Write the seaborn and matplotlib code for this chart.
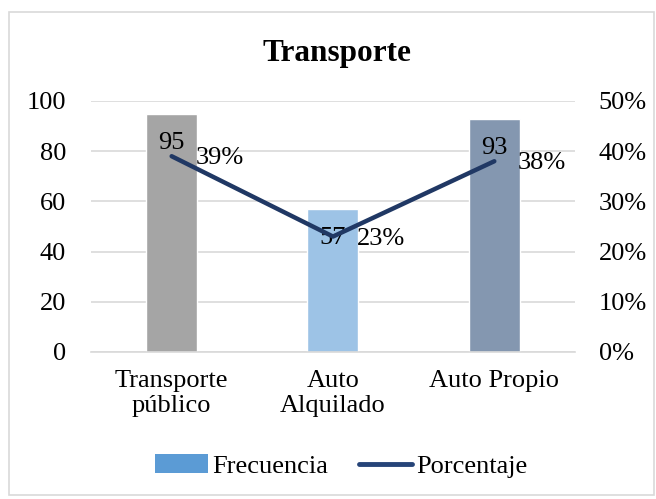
import pandas as pd
import matplotlib.pyplot as plt
import seaborn as sns
from matplotlib.patches import Patch, Rectangle
from matplotlib.lines import Line2D

sns.set_style("white")
plt.rcParams["font.family"] = ["Liberation Serif", "DejaVu Serif"]
plt.rcParams["text.color"] = "black"
plt.rcParams["xtick.color"] = "black"
plt.rcParams["ytick.color"] = "black"

# ====================================
# DATA
# ====================================

categorias = ["Transporte\npúblico", "Auto\nAlquilado", "Auto Propio"]
frecuencia = [95, 57, 93]
porcentaje = [0.39, 0.23, 0.38]
etiquetas_pct = ["39%", "23%", "38%"]
colores_barras = ["#A5A5A5", "#9DC3E6", "#8497B0"]

df = pd.DataFrame({
    "categoria": categorias,
    "frecuencia": frecuencia,
    "porcentaje": porcentaje,
    "pos": range(len(categorias)),
})

FS = 19
LINE_COLOR = "#203864"

# ====================================
# FIGURE
# ====================================

fig = plt.figure(figsize=(6.56, 4.99), dpi=100)
ax = fig.add_axes([0.1387, 0.2946, 0.7378, 0.503])

sns.barplot(
    data=df,
    x="categoria",
    y="frecuencia",
    hue="categoria",
    palette=colores_barras,
    saturation=1,
    width=0.316,
    dodge=False,
    legend=False,
    ax=ax,
    zorder=2,
)

ax.set_ylim(0, 100)
ax.set_xlim(-0.5, 2.5)
ax.set_yticks(range(0, 101, 20))
ax.yaxis.grid(True, color="#D9D9D9", linewidth=1.2, zorder=0)
ax.set_axisbelow(True)
ax.set_xlabel("")
ax.set_ylabel("")
for s in ["top", "left", "right"]:
    ax.spines[s].set_visible(False)
ax.spines["bottom"].set_color("#D9D9D9")
ax.spines["bottom"].set_linewidth(1.2)
ax.tick_params(axis="y", length=0, pad=18, labelsize=FS)
ax.tick_params(axis="x", length=0, pad=13, labelsize=FS)

for i, v in enumerate(frecuencia):
    ax.annotate(
        str(v), (i, v), xytext=(0, -21), textcoords="offset points",
        ha="center", va="center", fontsize=FS, zorder=5,
    )

ax2 = ax.twinx()
sns.lineplot(
    data=df, x="pos", y="porcentaje", color=LINE_COLOR,
    linewidth=3.2, ax=ax2, solid_capstyle="round",
)
ax2.set_ylim(0, 0.5)
ax2.set_yticks([0, 0.1, 0.2, 0.3, 0.4, 0.5])
ax2.set_yticklabels(["0%", "10%", "20%", "30%", "40%", "50%"])
ax2.set_ylabel("")
ax2.set_xlabel("")
for s in ax2.spines.values():
    s.set_visible(False)
ax2.tick_params(axis="y", length=0, pad=17, labelsize=FS)

for i, (p, t) in enumerate(zip(porcentaje, etiquetas_pct)):
    ax2.annotate(
        t, (i, p), xytext=(17, -1.5), textcoords="offset points",
        ha="left", va="center", fontsize=FS,
    )

fig.text(0.513, 0.893, "Transporte", ha="center", va="center",
         fontsize=22.5, fontweight="bold")

handles = [
    Patch(facecolor="#5B9BD5", edgecolor="none"),
    Line2D([0], [0], color="#264478", linewidth=3.5, solid_capstyle="round"),
]
fig.legend(
    handles, ["Frecuencia", "Porcentaje"],
    loc="center", bbox_to_anchor=(0.52, 0.066), ncol=2, frameon=False,
    fontsize=FS, handlelength=2.0, handletextpad=0.15, columnspacing=1.2,
)

fig.add_artist(Rectangle((9 / 656, 4 / 499), 645 / 656, 483 / 499,
                         transform=fig.transFigure, fill=False,
                         edgecolor="#D9D9D9", linewidth=1.2))

plt.savefig("out.png", dpi=100)
plt.close()
